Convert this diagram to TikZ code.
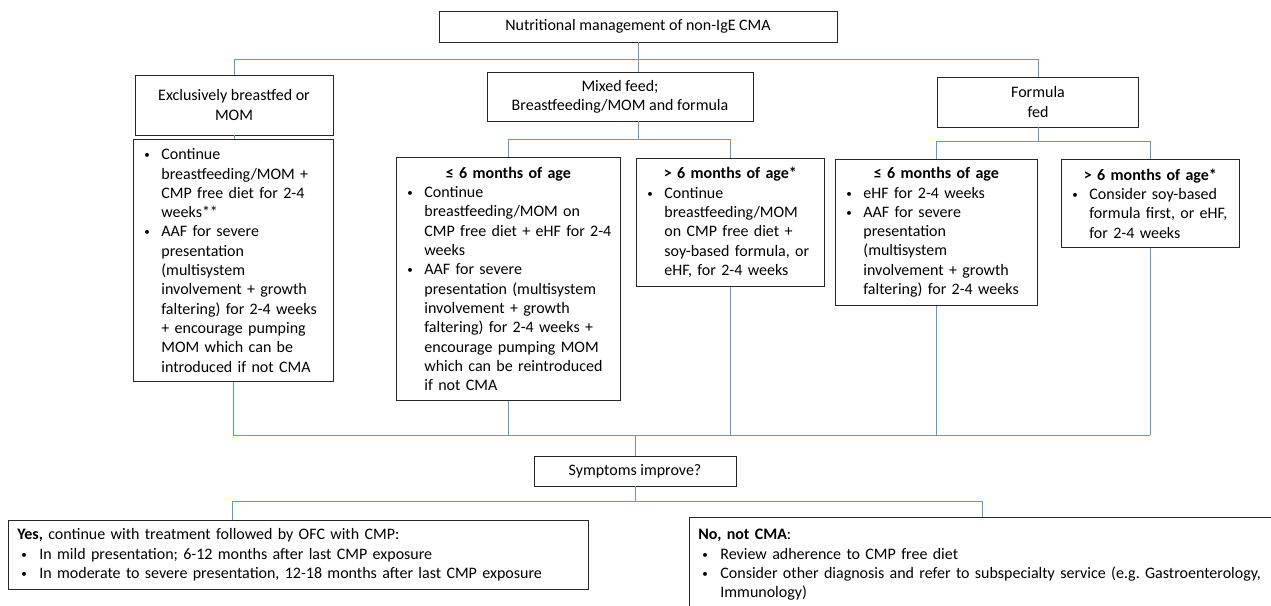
\documentclass[tikz,border=0pt]{standalone}
\usepackage{fontspec}
\setmainfont{Carlito}
\usepackage{xcolor}
\usepackage{tikz}
\usetikzlibrary{positioning}
\definecolor{linkblue}{RGB}{91,155,213}
\newcommand{\fs}{\fontsize{16}{19.3}\selectfont}
\newcommand{\bdot}{\raisebox{1pt}{\fontsize{11}{11}\selectfont\textbullet}}
\newcommand{\bul}[1]{\mbox{\makebox[17pt][l]{\bdot}#1}}
\newcommand{\ind}[1]{\mbox{\hspace*{17pt}#1}}
\newcommand{\bulw}[1]{\mbox{\hspace*{4pt}\makebox[18pt][l]{\bdot}#1}}
\newcommand{\hd}[1]{\makebox[\linewidth][c]{\bfseries #1}}
\tikzstyle{head} = [draw=black!85, line width=0.8pt, inner sep=0pt, align=center, font=\fs]
\tikzstyle{card} = [draw=black!85, line width=0.8pt, anchor=north west, inner ysep=0pt, inner xsep=11pt, align=left, font=\fs]
\tikzstyle{link} = [draw=linkblue, line width=1pt]

\begin{document}
\begin{tikzpicture}[x=1pt,y=-1pt]
\useasboundingbox (0,0) rectangle (1271,605);
\clip (0,0) rectangle (1271,605);

\node[head, minimum width=398, minimum height=31] (top) at (638,26.5) {Nutritional management of non-IgE CMA};
\node[head, minimum width=198, minimum height=60] (exbf) at (234,105) {Exclusively breastfed or\\MOM};
\node[head, minimum width=266, minimum height=49] (mixd) at (620,96.5) {Mixed feed;\\Breastfeeding/MOM and formula};
\node[head, minimum width=201, minimum height=50] (form) at (1038,102) {Formula\\fed};

\node[card, minimum width=200, minimum height=242, text width=178] (bf) at (133,139) {%
\bul{Continue}\\
\ind{breastfeeding/MOM +}\\
\ind{CMP free diet for 2-4}\\
\ind{weeks**}\\
\bul{AAF for severe}\\
\ind{presentation}\\
\ind{(multisystem}\\
\ind{involvement + growth}\\
\ind{faltering) for 2-4 weeks}\\
\ind{+ encourage pumping}\\
\ind{MOM which can be}\\
\ind{introduced if not CMA}};

\node[card, minimum width=224, minimum height=243, text width=202] (mx1) at (396,157) {%
\hd{≤ 6 months of age}\\
\bul{Continue}\\
\ind{breastfeeding/MOM on}\\
\ind{CMP free diet + eHF for 2-4}\\
\ind{weeks}\\
\bul{AAF for severe}\\
\ind{presentation (multisystem}\\
\ind{involvement + growth}\\
\ind{faltering) for 2-4 weeks +}\\
\ind{encourage pumping MOM}\\
\ind{which can be reintroduced}\\
\ind{if not CMA}};

\node[card, minimum width=188, minimum height=128, text width=166] (mx2) at (636,158) {%
\hd{> 6 months of age*}\\
\bul{Continue}\\
\ind{breastfeeding/MOM}\\
\ind{on CMP free diet +}\\
\ind{soy-based formula, or}\\
\ind{eHF, for 2-4 weeks}};

\node[card, minimum width=202, minimum height=146, text width=180] (fm1) at (835,159) {%
\hd{≤ 6 months of age}\\
\bul{eHF for 2-4 weeks}\\
\bul{AAF for severe}\\
\ind{presentation}\\
\ind{(multisystem}\\
\ind{involvement + growth}\\
\ind{faltering) for 2-4 weeks}};

\node[card, minimum width=178, minimum height=88, text width=156] (fm2) at (1061,159) {%
\hd{> 6 months of age*}\\
\bul{Consider soy-based}\\
\ind{formula first, or eHF,}\\
\ind{for 2-4 weeks}};

\node[head, minimum width=202, minimum height=30] (sym) at (635,471) {Symptoms improve?};

\node[card, inner xsep=9pt, minimum width=580, minimum height=69, text width=562] (yes) at (8,520) {%
\textbf{Yes,} continue with treatment followed by OFC with CMP:\\
\bulw{In mild presentation; 6-12 months after last CMP exposure}\\
\bulw{In moderate to severe presentation, 12-18 months after last CMP exposure}};

\node[card, inner xsep=9pt, minimum width=700, minimum height=95, text width=682] (no) at (689,517) {%
\textbf{No, not CMA}:\\
\bulw{Review adherence to CMP free diet}\\
\bulw{Consider other diagnosis and refer to subspecialty service (e.g.\ Gastroenterology,}\\
\hspace*{22pt}Immunology)};

\coordinate (busA) at (0,59);
\coordinate (busB) at (0,139);
\coordinate (busC) at (0,141);
\coordinate (busD) at (0,435);
\coordinate (busE) at (0,501);
\coordinate (yT) at (232,520);
\coordinate (nT) at (982,517);

\draw[link] (top.south) -- (top.south |- mixd.north);
\draw[link] (exbf.north |- busA) -- (form.north |- busA);
\draw[link] (exbf.north |- busA) -- (exbf.north);
\draw[link] (form.north |- busA) -- (form.north);

\draw[link] (exbf.south) -- (bf.north -| exbf.south);
\draw[link] (top.south |- mixd.south) -- (top.south |- busB);
\draw[link] (mx1.north |- busB) -- (mx2.north |- busB);
\draw[link] (mx1.north |- busB) -- (mx1.north);
\draw[link] (mx2.north |- busB) -- (mx2.north);
\draw[link] (form.south) -- (form.south |- busC);
\draw[link] (fm1.north |- busC) -- (fm2.north |- busC);
\draw[link] (fm1.north |- busC) -- (fm1.north);
\draw[link] (fm2.north |- busC) -- (fm2.north);

\foreach \b in {bf,mx1,mx2,fm1,fm2}
  \draw[link] (\b.south) -- (\b.south |- busD);
\draw[link] (bf.south |- busD) -- (fm2.south |- busD);
\draw[link] (sym.north |- busD) -- (sym.north);

\draw[link] (sym.south) -- (sym.south |- busE);
\draw[link] (yT |- busE) -- (nT |- busE);
\draw[link] (yT |- busE) -- (yT);
\draw[link] (nT |- busE) -- (nT);
\end{tikzpicture}
\end{document}
